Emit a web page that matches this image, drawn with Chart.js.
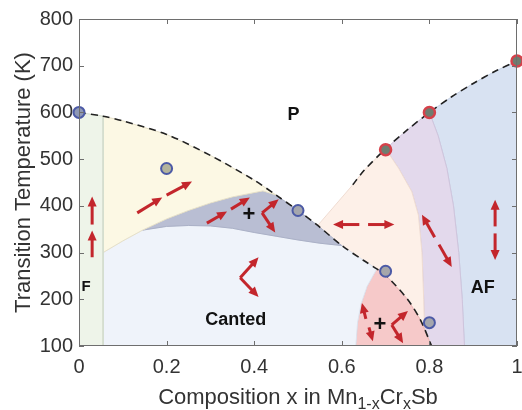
<!DOCTYPE html>
<html>
<head>
<meta charset="utf-8">
<script src="https://cdn.jsdelivr.net/npm/chart.js@4.4.0/dist/chart.umd.min.js"></script>
<style>
html, body { margin: 0; padding: 0; background: #fff; }
#wrap { width: 522px; height: 410px; }
</style>
</head>
<body>
<div id="wrap"><canvas id="phase" width="522" height="410"></canvas></div>
<script>
// axis ticks
const xTicks = [0, 0.2, 0.4, 0.6, 0.8, 1];
const yTicks = [100, 200, 300, 400, 500, 600, 700, 800];

// measured transition temperatures [x, T]
const tcBlue = [[0, 600], [0.2, 480], [0.5, 390], [0.7, 260], [0.8, 150]];
const tcRed = [[0.7, 520], [0.8, 600], [1, 710]];

// phase boundaries [x, T]
const dashedLeft = [[0, 600], [0.055, 592], [0.1, 582], [0.2, 553], [0.3, 508], [0.4, 455], [0.45, 423], [0.5, 390],
  [0.545, 358], [0.6, 315], [0.65, 283], [0.68, 265], [0.7, 252], [0.75, 200], [0.78, 155], [0.805, 100]];
const dashedRight = [[0.625, 445], [0.65, 475], [0.7, 522], [0.75, 563], [0.8, 600], [0.85, 633], [0.9, 662], [0.95, 688], [1, 710]];
const fRegion = [[0, 100], [0, 600], [0.055, 592], [0.055, 100]];
const yellowLower = [[0.055, 300], [0.1, 325], [0.145, 348]];
const darkUpper = [[0.145, 348], [0.2, 372], [0.25, 390], [0.3, 406], [0.35, 419], [0.42, 432], [0.45, 423]];
const darkLower = [[0.145, 348], [0.2, 356], [0.25, 358], [0.3, 357], [0.35, 352], [0.4, 343], [0.45, 335], [0.5, 327], [0.55, 320], [0.6, 315]];
const peachEdge = [[0.545, 358], [0.625, 445]];
const pinkLeft = [[0.632, 100], [0.636, 150], [0.644, 190], [0.658, 228], [0.68, 265]];
const purpleLeft = [[0.7, 522], [0.73, 480], [0.76, 430], [0.775, 380], [0.783, 300], [0.787, 200], [0.79, 100]];
const purpleRight = [[0.8, 600], [0.82, 550], [0.84, 480], [0.855, 400], [0.867, 300], [0.875, 200], [0.88, 100]];

// spin arrows [x0, T0, x1, T1], head at the second point
const spinArrows = [
  [0.03, 290, 0.03, 347], [0.03, 360, 0.03, 420],
  [0.133, 385, 0.19, 418], [0.2, 423, 0.258, 452],
  [0.292, 363, 0.338, 388], [0.347, 393, 0.39, 418],
  [0.418, 385, 0.456, 414], [0.418, 385, 0.448, 343],
  [0.368, 246, 0.41, 290], [0.368, 246, 0.41, 205],
  [0.64, 360, 0.58, 360], [0.66, 360, 0.72, 360],
  [0.812, 333, 0.783, 381], [0.822, 317, 0.851, 269],
  [0.95, 356, 0.95, 413], [0.95, 341, 0.95, 284],
  [0.655, 158, 0.646, 192], [0.662, 140, 0.671, 110],
  [0.714, 145, 0.751, 175], [0.714, 145, 0.74, 106]
];

// phase labels [text, x, T, size]
const phaseLabels = [['P', 0.49, 594, 18], ['F', 0.016, 226, 15], ['Canted', 0.358, 156, 18], ['AF', 0.922, 224, 18], ['+', 0.388, 380, 22], ['+', 0.687, 145, 22]];

const FONT = '"Liberation Sans", Arial, sans-serif';

function seg(arr, x0, x1) {
  return arr.filter(p => p[0] >= x0 && p[0] <= x1);
}
function rev(arr) { return arr.slice().reverse(); }
function xy(arr) { return arr.map(p => ({x: p[0], y: p[1]})); }

const regions = [
  {data: fRegion, bg: '#eef4e9', bd: '#d3dccd'},
  {data: yellowLower.concat(darkUpper, rev(seg(dashedLeft, 0.055, 0.45))), bg: '#fcf8e4', bd: '#e6e0c8'},
  {data: darkUpper.concat(seg(dashedLeft, 0.45, 0.6), rev(darkLower)), bg: '#b9bed3', bd: '#aab0c6'},
  {data: [[0.055, 100]].concat(yellowLower, darkLower, seg(dashedLeft, 0.6, 0.68), rev(pinkLeft)), bg: '#eff3fa', bd: '#dde3ee'},
  {data: pinkLeft.concat(seg(dashedLeft, 0.68, 0.805)), bg: '#f6c9c9', bd: '#ebb5b6'},
  {data: peachEdge.concat(seg(dashedRight, 0.625, 0.7), purpleLeft, rev(seg(dashedLeft, 0.545, 0.805))), bg: '#fdf0e8', bd: '#efdcd2'},
  {data: seg(dashedRight, 0.7, 0.8).concat(purpleRight, rev(purpleLeft)), bg: '#e3d9ec', bd: '#cfc4dc'},
  {data: seg(dashedRight, 0.8, 1).concat([[1, 100]], rev(purpleRight)), bg: '#d8e2f2', bd: '#c3cee2'}
];

const datasets = [];
// points on top
datasets.push({
  type: 'line', data: xy(tcBlue), showLine: false, order: 0, clip: false,
  pointRadius: 5.5, pointBorderWidth: 2, pointBorderColor: '#4c5aa6',
  pointBackgroundColor: ['#8e98b6', '#b3b49c', '#a4a6ad', '#a6a6aa', '#a4a6ad']
});
datasets.push({
  type: 'line', data: xy(tcRed), showLine: false, order: 0, clip: false,
  pointRadius: 5.5, pointBorderWidth: 2.5, pointBorderColor: '#d6414a', pointBackgroundColor: '#6f7d70'
});
[dashedLeft, dashedRight].forEach(c => datasets.push({
  type: 'line', data: xy(c), order: 1, borderColor: '#222', borderWidth: 1.6,
  borderDash: [7, 5], pointRadius: 0, tension: 0.3, fill: false
}));
regions.forEach(r => datasets.push({
  type: 'line', data: xy(r.data), order: 2, backgroundColor: r.bg, borderColor: r.bd,
  borderWidth: 1, pointRadius: 0, fill: 'shape', tension: 0
}));

const decorPlugin = {
  id: 'decor',
  afterDatasetsDraw(chart) {
    const {ctx, scales: {x, y}} = chart;
    ctx.save();
    // arrows
    ctx.strokeStyle = '#c3262c';
    ctx.fillStyle = '#c3262c';
    ctx.lineWidth = 3;
    spinArrows.forEach(a => {
      const x0 = x.getPixelForValue(a[0]), y0 = y.getPixelForValue(a[1]);
      const x1 = x.getPixelForValue(a[2]), y1 = y.getPixelForValue(a[3]);
      const ang = Math.atan2(y1 - y0, x1 - x0);
      const hl = 10, hw = 4.5;
      ctx.beginPath();
      ctx.moveTo(x0, y0);
      ctx.lineTo(x1 - Math.cos(ang) * hl * 0.8, y1 - Math.sin(ang) * hl * 0.8);
      ctx.stroke();
      ctx.beginPath();
      ctx.moveTo(x1, y1);
      ctx.lineTo(x1 - Math.cos(ang) * hl - Math.sin(ang) * hw, y1 - Math.sin(ang) * hl + Math.cos(ang) * hw);
      ctx.lineTo(x1 - Math.cos(ang) * hl + Math.sin(ang) * hw, y1 - Math.sin(ang) * hl - Math.cos(ang) * hw);
      ctx.closePath();
      ctx.fill();
    });
    // labels
    ctx.fillStyle = '#111';
    ctx.textAlign = 'center';
    ctx.textBaseline = 'middle';
    phaseLabels.forEach(l => {
      ctx.font = 'bold ' + l[3] + 'px ' + FONT;
      ctx.fillText(l[0], x.getPixelForValue(l[1]), y.getPixelForValue(l[2]));
    });
    ctx.restore();
  },
  afterDraw(chart) {
    const {ctx, chartArea: a, scales: {x, y}} = chart;
    ctx.save();
    ctx.strokeStyle = '#6e6e6e';
    ctx.lineWidth = 1;
    ctx.strokeRect(a.left + 0.5, a.top + 0.5, a.right - a.left - 1, a.bottom - a.top - 1);
    ctx.beginPath();
    xTicks.forEach(v => {
      const px = Math.round(x.getPixelForValue(v)) + 0.5;
      ctx.moveTo(px, a.bottom); ctx.lineTo(px, a.bottom - 5);
      ctx.moveTo(px, a.top); ctx.lineTo(px, a.top + 5);
    });
    yTicks.forEach(v => {
      const py = Math.round(y.getPixelForValue(v)) + 0.5;
      ctx.moveTo(a.left, py); ctx.lineTo(a.left + 5, py);
      ctx.moveTo(a.right, py); ctx.lineTo(a.right - 5, py);
    });
    ctx.stroke();

    // axis titles
    ctx.fillStyle = '#333';
    ctx.textBaseline = 'alphabetic';
    ctx.save();
    ctx.translate(30, (a.top + a.bottom) / 2);
    ctx.rotate(-Math.PI / 2);
    ctx.textAlign = 'center';
    ctx.font = '22px ' + FONT;
    ctx.fillText('Transition Temperature (K)', 0, 0);
    ctx.restore();

    const parts = [['Composition x in Mn', 0], ['1-x', 1], ['Cr', 0], ['x', 1], ['Sb', 0]];
    const mainF = '22px ' + FONT, subF = '16px ' + FONT;
    let total = 0;
    parts.forEach(p => { ctx.font = p[1] ? subF : mainF; total += ctx.measureText(p[0]).width; });
    let cx = (a.left + a.right) / 2 - total / 2;
    const base = 404;
    ctx.textAlign = 'left';
    parts.forEach(p => {
      ctx.font = p[1] ? subF : mainF;
      ctx.fillText(p[0], cx, p[1] ? base + 5 : base);
      cx += ctx.measureText(p[0]).width;
    });
    ctx.restore();
  }
};

new Chart(document.getElementById('phase'), {
  type: 'scatter',
  data: {datasets: datasets},
  options: {
    responsive: false,
    animation: false,
    layout: {autoPadding: false, padding: {top: 19, right: 5, left: 0, bottom: 0}},
    plugins: {legend: {display: false}, tooltip: {enabled: false}},
    scales: {
      x: {
        type: 'linear', min: 0, max: 1,
        afterBuildTicks: s => { s.ticks = xTicks.map(v => ({value: v})); },
        afterFit: s => { s.height = 64; s.paddingLeft = 0; s.paddingRight = 0; },
        grid: {display: false, drawTicks: false},
        border: {display: false},
        ticks: {color: '#333', padding: 9, font: {size: 20, family: FONT}, callback: v => String(+v.toFixed(1))}
      },
      y: {
        type: 'linear', min: 100, max: 800,
        afterBuildTicks: s => { s.ticks = yTicks.map(v => ({value: v})); },
        afterFit: s => { s.width = 79; s.paddingTop = 0; s.paddingBottom = 0; },
        grid: {display: false, drawTicks: false},
        border: {display: false},
        ticks: {color: '#333', padding: 6, font: {size: 20, family: FONT}}
      }
    }
  },
  plugins: [decorPlugin]
});
</script>
</body>
</html>
